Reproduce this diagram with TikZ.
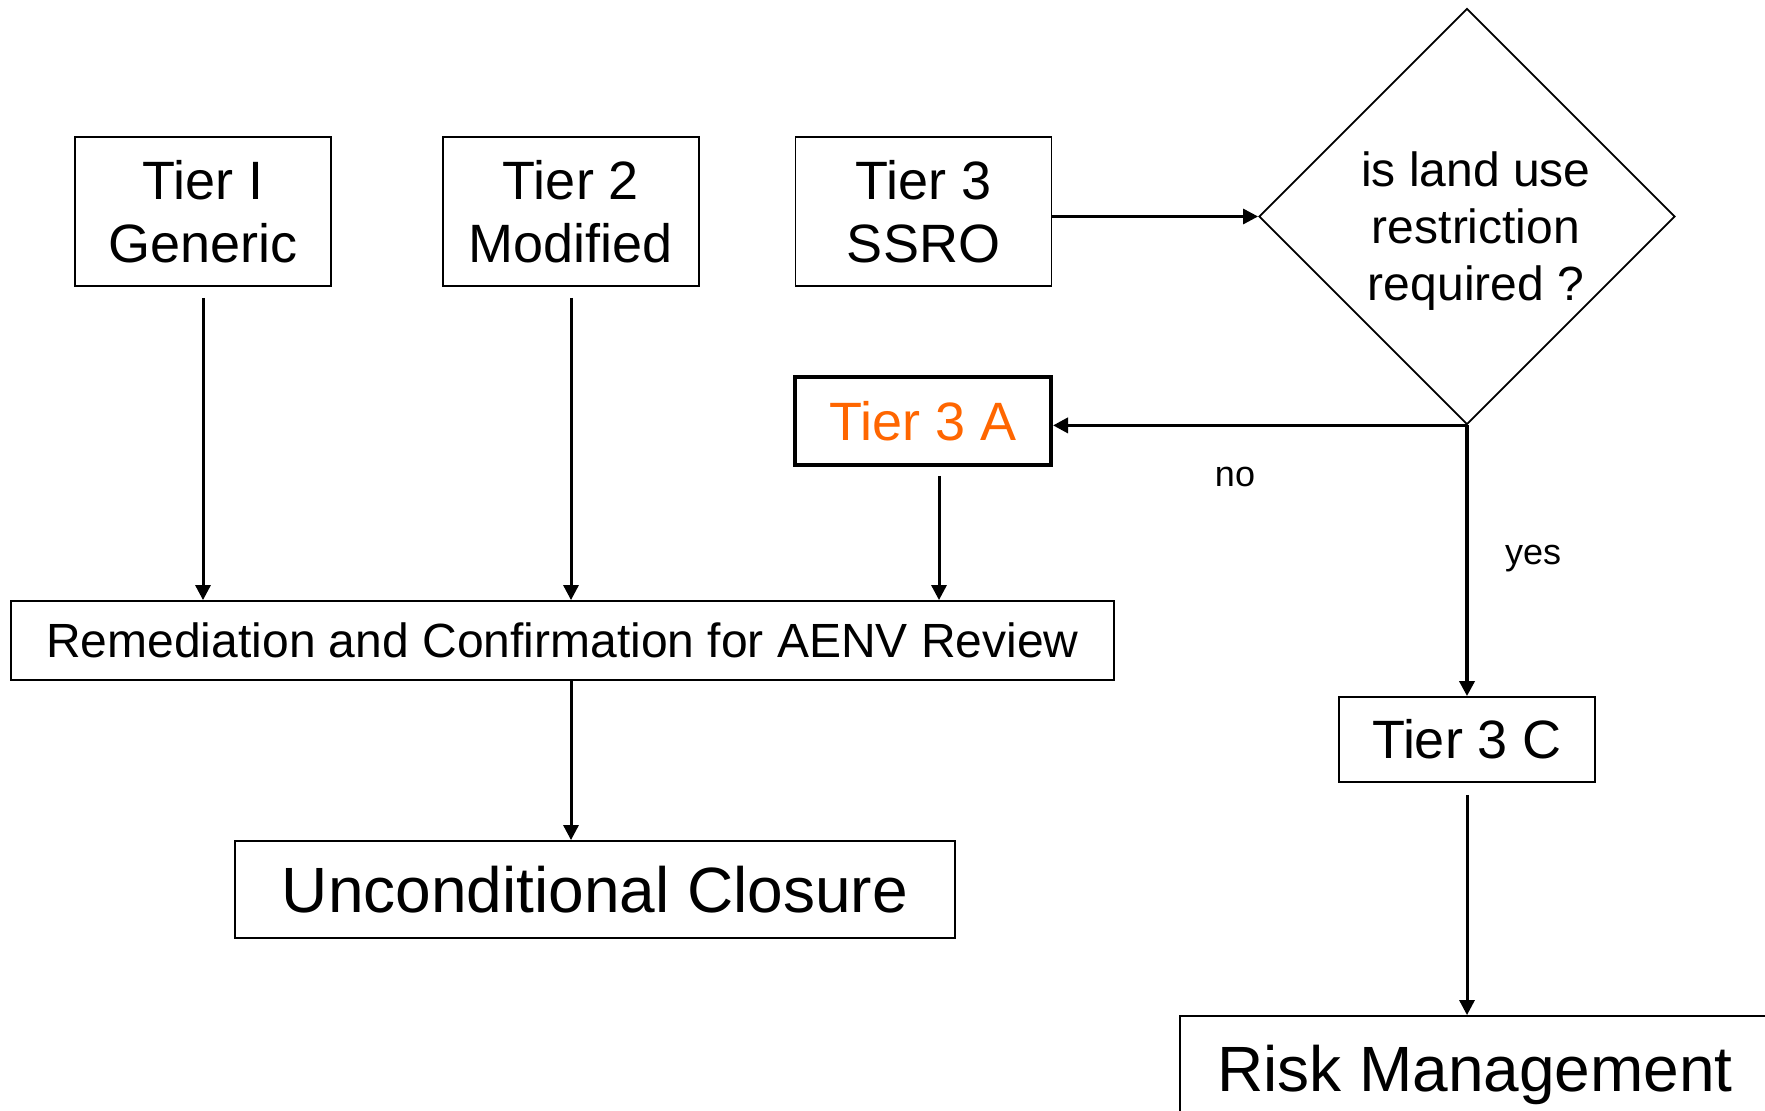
\documentclass[tikz,border=0pt]{standalone}
\usepackage{fontspec}
\setmainfont{Liberation Sans}
\usepackage{tikz}
\usepackage{xcolor}
\usetikzlibrary{
    arrows.meta,
    shapes,
    calc,
    positioning
}
\definecolor{tierorange}{RGB}{255,102,0}

\begin{document}
\begin{tikzpicture}[x=0.5pt, y=-0.5pt,
    tierbox/.style={draw, line width=0.9pt, inner sep=0pt, align=center,
        minimum width=128pt, font=\fontsize{27}{31.5}\selectfont},
    flow/.style={->, line width=1.5pt},
    >={Triangle[length=7.5pt, width=7.5pt]}]
                        \clip (0, 0) rectangle (1765, 1111);
                        \node[tierbox, minimum height=74.5pt] (tierone) at (203, 211.5) {Tier I\\Generic};
                        \node[tierbox, minimum height=74.5pt] (tiertwo) at (571, 211.5) {Tier 2\\Modified};
                        \node[tierbox, minimum height=74.5pt] (tierthree) at (923.5, 211.5) {Tier 3\\SSRO};
                        \node[draw, diamond, aspect=1, inner sep=0pt, line width=0.9pt,
                            minimum width=208pt, minimum height=208pt] (landuse) at (1467, 216.5) {};
                        \node[align=center, font=\fontsize{24}{28.4}\selectfont] (landusetext)
                            at ([xshift=4.5pt, yshift=-7.3pt]landuse.center) {is land use\\restriction\\required ?};
                        \node[tierbox, minimum height=44pt, line width=2pt, text=tierorange] (tierthreea) at (923, 421) {Tier 3 A};
                        \node[tierbox, minimum width=551.5pt, minimum height=39.5pt,
                            font=\fontsize{24}{28}\selectfont] (remed) at (562.5, 640.5)
                            {Remediation and Confirmation for AENV Review};
                        \node[tierbox, minimum width=360pt, minimum height=48.5pt,
                            font=\fontsize{32}{38}\selectfont] (closure) at (595, 889.5) {Unconditional Closure};
                        \node[tierbox, minimum height=42.5pt] (tierthreec) at (1467, 739.5) {Tier 3 C};
                        \node[tierbox, minimum width=295pt, minimum height=59pt,
                            font=\fontsize{32}{38}\selectfont] (riskmgmt) at (1475, 1075) {Risk Management};
                        \node[font=\fontsize{18}{21}\selectfont] (nolabel) at (1235, 477) {no};
                        \node[font=\fontsize{18}{21}\selectfont] (yeslabel) at (1533, 559) {yes};
                        \draw[flow, shorten <=5.5pt] (tierone) -- (tierone |- remed.north);
                        \draw[flow, shorten <=5.5pt] (tiertwo) -- (tiertwo |- remed.north);
                        \draw[flow, shorten <=4.5pt] ([xshift=8pt]tierthreea.south) -- ([xshift=8pt]tierthreea.south |- remed.north);
                        \draw[flow] (remed.south -| tiertwo) -- (closure.north -| tiertwo);
                        \draw[flow] (tierthree.east |- landuse) -- (landuse.west);
                        \draw[flow, line width=1.8pt] (landuse.south) -- (tierthreea.east |- landuse.south);
                        \draw[flow, line width=1.8pt] (landuse.south) -- (tierthreec.north);
                        \draw[flow, shorten <=6pt] (tierthreec) -- (tierthreec |- riskmgmt.north);
                    \end{tikzpicture}
\end{document}
